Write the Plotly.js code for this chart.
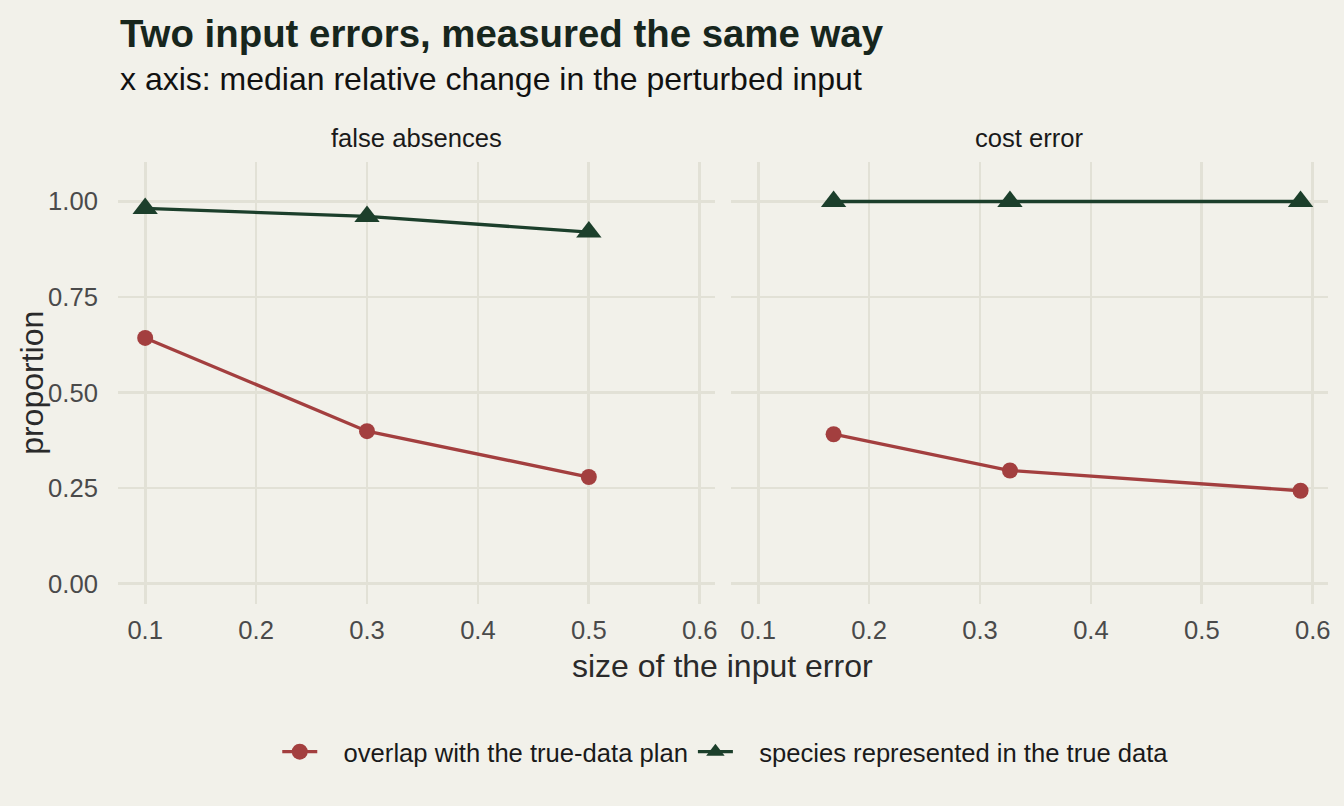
<!DOCTYPE html>
<html>
<head>
<meta charset="utf-8">
<script src="https://cdn.plot.ly/plotly-3.0.1.min.js"></script>
<style>
  html, body { margin: 0; padding: 0; background: #f2f1ea; }
  #chart { width: 1344px; height: 806px; }
</style>
</head>
<body>
<div id="chart"></div>
<script>
// Facet titles
const panelTitles = ["false absences", "cost error"];

// Panel 1: false absences
const errorSizeFalseAbs = [0.1, 0.3, 0.5];
const overlapFalseAbs = [0.643, 0.399, 0.279];
const speciesFalseAbs = [0.982, 0.961, 0.920];

// Panel 2: cost error
const errorSizeCost = [0.168, 0.327, 0.589];
const overlapCost = [0.391, 0.296, 0.243];
const speciesCost = [1.0, 1.0, 1.0];

// Series names
const seriesNames = ["overlap with the true-data plan", "species represented in the true data"];

// Axis ticks
const xTickVals = [0.1, 0.2, 0.3, 0.4, 0.5, 0.6];
const xTickText = ["0.1", "0.2", "0.3", "0.4", "0.5", "0.6"];
const yTickVals = [0, 0.25, 0.5, 0.75, 1];
const yTickText = ["0.00", "0.25", "0.50", "0.75", "1.00"];

const RED = "#a33f3f";
const GREEN = "#1c3f2b";
const BG = "#f2f1ea";
const GRID = "#e2e1d6";
const FONT = "Liberation Sans, Arial, Helvetica, sans-serif";
// small gap between the legend key and its label
const LEGEND_PAD = "\u00a0\u00a0\u00a0";

function overlapTrace(x, y, xa, ya, show) {
  return {
    x: x, y: y, xaxis: xa, yaxis: ya, type: "scatter", mode: "lines+markers",
    name: LEGEND_PAD + seriesNames[0], legendgroup: "overlap", showlegend: show,
    line: { color: RED, width: 3.3 },
    marker: { color: RED, size: 16, symbol: "circle" },
    cliponaxis: false
  };
}
function speciesTrace(x, y, xa, ya, show) {
  return {
    x: x, y: y, xaxis: xa, yaxis: ya, type: "scatter", mode: "lines+markers",
    name: LEGEND_PAD + seriesNames[1], legendgroup: "species", showlegend: show,
    line: { color: GREEN, width: 3.3 },
    marker: { color: GREEN, size: 22, symbol: "triangle-up" },
    cliponaxis: false
  };
}

const traces = [
  overlapTrace(errorSizeFalseAbs, overlapFalseAbs, "x", "y", true),
  speciesTrace(errorSizeFalseAbs, speciesFalseAbs, "x", "y", true),
  overlapTrace(errorSizeCost, overlapCost, "x2", "y2", false),
  speciesTrace(errorSizeCost, speciesCost, "x2", "y2", false)
];

const xCommon = {
  range: [0.0755, 0.6135],
  tickvals: xTickVals, ticktext: xTickText,
  showgrid: true, gridcolor: GRID, gridwidth: 2.8,
  zeroline: false, showline: false,
  ticks: "outside", ticklen: 4, tickcolor: "rgba(0,0,0,0)",
  tickfont: { family: FONT, size: 25.6, color: "#4a4a4a" },
  fixedrange: true
};
const yCommon = {
  range: [-0.0525, 1.1025],
  domain: [0.251, 0.7986],
  tickvals: yTickVals, ticktext: yTickText,
  showgrid: true, gridcolor: GRID, gridwidth: 2.8,
  zeroline: false, showline: false,
  ticks: "outside", ticklen: 14, tickcolor: "rgba(0,0,0,0)",
  tickfont: { family: FONT, size: 25.6, color: "#4a4a4a" },
  fixedrange: true
};

const layout = {
  width: 1344, height: 806,
  margin: { l: 0, r: 0, t: 0, b: 0, pad: 0 },
  paper_bgcolor: BG, plot_bgcolor: BG,
  font: { family: FONT, color: "#222" },
  xaxis: Object.assign({}, xCommon, { domain: [0.0878, 0.5318], anchor: "y" }),
  xaxis2: Object.assign({}, xCommon, { domain: [0.5439, 0.9879], anchor: "y2" }),
  yaxis: Object.assign({}, yCommon, { anchor: "x" }),
  yaxis2: Object.assign({}, yCommon, { anchor: "x2", matches: "y", showticklabels: false }),
  showlegend: true,
  legend: {
    orientation: "h", x: 0.54, xanchor: "center", y: 0.067, yanchor: "middle",
    font: { family: FONT, size: 25.6, color: "#1a1a1a" },
    bgcolor: "rgba(0,0,0,0)", itemsizing: "trace", traceorder: "normal",
    itemwidth: 35
  },
  annotations: [
    { text: "<b>Two input errors, measured the same way</b>", xref: "paper", yref: "paper",
      x: 118 / 1344, y: 0.959, xanchor: "left", yanchor: "middle", showarrow: false,
      font: { family: FONT, size: 38.4, color: "#17261d" } },
    { text: "x axis: median relative change in the perturbed input", xref: "paper", yref: "paper",
      x: 118 / 1344, y: 0.902, xanchor: "left", yanchor: "middle", showarrow: false,
      font: { family: FONT, size: 32, color: "#111" } },
    { text: panelTitles[0], xref: "x domain", yref: "paper", x: 0.5, y: 0.8288,
      xanchor: "center", yanchor: "middle", showarrow: false,
      font: { family: FONT, size: 25.6, color: "#1a1a1a" } },
    { text: panelTitles[1], xref: "x2 domain", yref: "paper", x: 0.5, y: 0.8288,
      xanchor: "center", yanchor: "middle", showarrow: false,
      font: { family: FONT, size: 25.6, color: "#1a1a1a" } },
    { text: "size of the input error", xref: "paper", yref: "paper",
      x: 722.8 / 1344, y: 0.1740, xanchor: "center", yanchor: "middle", showarrow: false,
      font: { family: FONT, size: 32, color: "#2a2a2a" } },
    { text: "proportion", xref: "paper", yref: "paper", textangle: -90,
      x: 32 / 1344, y: 0.525, xanchor: "center", yanchor: "middle", showarrow: false,
      font: { family: FONT, size: 32, color: "#2a2a2a" } }
  ]
};

Plotly.newPlot("chart", traces, layout, { displayModeBar: false, staticPlot: true });
</script>
</body>
</html>
